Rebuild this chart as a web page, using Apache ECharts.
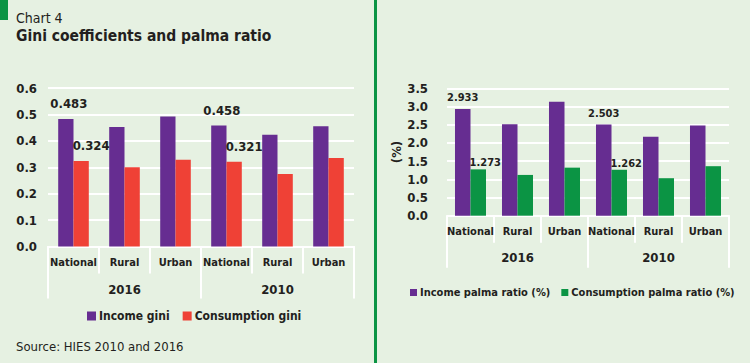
<!DOCTYPE html>
<html><head><meta charset="utf-8">
<script src="https://cdn.jsdelivr.net/npm/echarts@6/dist/echarts.min.js"></script>
<style>html,body{margin:0;padding:0;background:#e6f1e2;}#c{width:750px;height:363px;}</style>
</head><body><div id="c"></div>
<script>
const categories = ['National','Rural','Urban','National','Rural','Urban'];
const years = ['2016','2010'];
const incomeGini = [0.483,0.452,0.492,0.458,0.423,0.455];
const consumptionGini = [0.324,0.300,0.328,0.321,0.274,0.335];
const incomePalma = [2.933,2.51,3.13,2.503,2.17,2.48];
const consumptionPalma = [1.273,1.12,1.32,1.262,1.03,1.36];
const labelled = [0,3];

const FONT = '"DejaVu Sans Condensed","DejaVu Sans",sans-serif';
const TXT = '#231f20';
const PURPLE = '#662d91', RED = '#ef4136', GREEN = '#0b9444';

function withLabels(vals, decimals, lbl) {
  return vals.map((v,i) => labelled.includes(i)
    ? {value:v, label:Object.assign({show:true, formatter:v.toFixed(decimals), fontFamily:FONT, fontWeight:'bold', color:TXT}, lbl)}
    : v);
}

const chart = echarts.init(document.getElementById('c'), null, {renderer:'svg'});
function xAxes(gridIndex, catMargin, yearMargin, innerLen, outerLen, catSize) {
  return [
    {type:'category', gridIndex, data:categories, position:'bottom',
     axisLine:{show:true, lineStyle:{color:'#fff', width:2}},
     axisTick:{show:true, length:innerLen, lineStyle:{color:'#fff', width:2}},
     axisLabel:{margin:catMargin, fontFamily:FONT, fontWeight:'bold', fontSize:catSize, color:TXT, interval:0}},
    {type:'category', gridIndex, data:years, position:'bottom',
     axisLine:{show:false},
     axisTick:{show:true, length:outerLen, lineStyle:{color:'#fff', width:2}},
     axisLabel:{margin:yearMargin, fontFamily:FONT, fontWeight:'bold', fontSize:13, color:TXT}}
  ];
}
const option = {
  backgroundColor:'#e6f1e2',
  animation:false,
  title:[
    {text:'Chart 4', left:11, top:6, textStyle:{fontFamily:FONT, fontWeight:'normal', fontSize:14, color:TXT}},
    {text:'Gini coefficients and palma ratio', left:11, top:23, textStyle:{fontFamily:FONT, fontWeight:'bold', fontSize:15.5, color:TXT}},
    {text:'Source: HIES 2010 and 2016', left:11, top:335, textStyle:{fontFamily:FONT, fontWeight:'normal', fontSize:13, color:TXT}}
  ],
  graphic:[
    {type:'rect', left:0, top:0, shape:{width:8, height:20}, style:{fill:GREEN}},
    {type:'rect', left:374, top:0, shape:{width:3, height:363}, style:{fill:GREEN}}
  ],
  legend:[
    {data:['Income gini','Consumption gini'], left:87, top:310, padding:0, itemWidth:9, itemHeight:9, itemGap:13, icon:'rect',
     textStyle:{fontFamily:FONT, fontWeight:'bold', fontSize:12, color:TXT, padding:[0,0,0,-2]}},
    {data:['Income palma ratio (%)','Consumption palma ratio (%)'], left:410, top:287, width:420, padding:0, itemWidth:7, itemHeight:7, itemGap:11, icon:'rect',
     textStyle:{fontFamily:FONT, fontWeight:'bold', fontSize:11, color:TXT, padding:[0,0,0,-2]}}
  ],
  grid:[
    {left:48, top:88, width:306, height:158.5, containLabel:false},
    {left:447, top:88.3, width:282, height:127.4, containLabel:false}
  ],
  xAxis:[...xAxes(0, 10, 36, 27, 52, 11), ...xAxes(1, 10, 35, 27, 52, 11)],
  yAxis:[
    {type:'value', gridIndex:0, min:0, max:0.6, interval:0.1,
     axisLine:{show:false}, axisTick:{show:false},
     splitLine:{lineStyle:{color:'#fff', width:2}},
     axisLabel:{margin:11, formatter:v=>v.toFixed(1), fontFamily:FONT, fontWeight:'bold', fontSize:13, color:TXT}},
    {type:'value', gridIndex:1, min:0, max:3.5, interval:0.5,
     name:'(%)', nameLocation:'middle', nameRotate:90, nameGap:44,
     nameTextStyle:{fontFamily:FONT, fontWeight:'bold', fontSize:13, color:TXT},
     axisLine:{show:false}, axisTick:{show:false},
     splitLine:{lineStyle:{color:'#fff', width:2}},
     axisLabel:{margin:19, formatter:v=>v.toFixed(1), fontFamily:FONT, fontWeight:'bold', fontSize:13, color:TXT}}
  ],
  series:[
    {name:'Income gini', type:'bar', xAxisIndex:0, yAxisIndex:0, barCategoryGap:'40%', barGap:'0%',
     itemStyle:{color:PURPLE}, data:withLabels(incomeGini, 3, {position:'top', distance:9, offset:[3,0], fontSize:13})},
    {name:'Consumption gini', type:'bar', xAxisIndex:0, yAxisIndex:0, barCategoryGap:'40%', barGap:'0%',
     itemStyle:{color:RED}, data:withLabels(consumptionGini, 3, {position:'top', distance:9, offset:[10,0], fontSize:13})},
    {name:'Income palma ratio (%)', type:'bar', xAxisIndex:2, yAxisIndex:1, barCategoryGap:'34%', barGap:'0%',
     itemStyle:{color:PURPLE}, data:withLabels(incomePalma, 3, {position:'top', distance:6, fontSize:11})},
    {name:'Consumption palma ratio (%)', type:'bar', xAxisIndex:2, yAxisIndex:1, barCategoryGap:'34%', barGap:'0%',
     itemStyle:{color:GREEN}, data:withLabels(consumptionPalma, 3, {position:'top', distance:1, offset:[7,0], fontSize:11})}
  ]
};
chart.setOption(option);
</script></body></html>
